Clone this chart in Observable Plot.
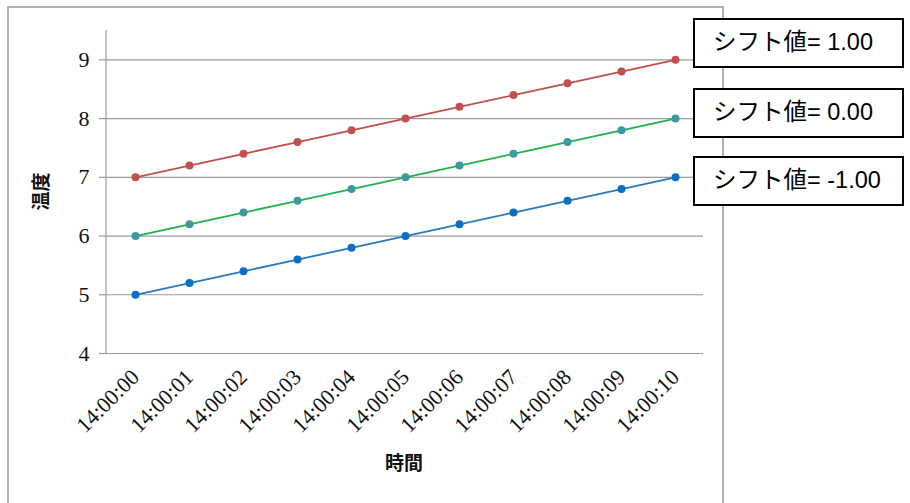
<!DOCTYPE html>
<html>
<head>
<meta charset="utf-8">
<script src="https://cdn.jsdelivr.net/npm/d3@7"></script>
<script src="https://cdn.jsdelivr.net/npm/@observablehq/plot@0.6"></script>
<style>
  html, body { margin: 0; padding: 0; background: #fff; }
  #chart { width: 910px; height: 503px; overflow: hidden; }
</style>
</head>
<body>
<div id="chart"></div>
<script>
const times = ["14:00:00","14:00:01","14:00:02","14:00:03","14:00:04","14:00:05","14:00:06","14:00:07","14:00:08","14:00:09","14:00:10"];
const seriesPlus = [7.0, 7.2, 7.4, 7.6, 7.8, 8.0, 8.2, 8.4, 8.6, 8.8, 9.0];
const seriesZero = [6.0, 6.2, 6.4, 6.6, 6.8, 7.0, 7.2, 7.4, 7.6, 7.8, 8.0];
const seriesMinus = [5.0, 5.2, 5.4, 5.6, 5.8, 6.0, 6.2, 6.4, 6.6, 6.8, 7.0];
const yTicks = [4, 5, 6, 7, 8, 9];
const shiftLabels = ["シフト値= 1.00", "シフト値= 0.00", "シフト値= -1.00"];
const xTitle = "時間";
const yTitle = "温度";

const seriesDefs = [
  {values: seriesPlus, line: "#c0504d", dot: "#c0504d"},
  {values: seriesZero, line: "#22b14c", dot: "#3a9aa0"},
  {values: seriesMinus, line: "#2a7ac0", dot: "#0a6fc2"}
];

const serif = "'Liberation Serif', 'DejaVu Serif', 'Noto Sans CJK JP', serif";

const marks = [
  Plot.gridY(yTicks, {stroke: "#9a9a9a", strokeOpacity: 1, strokeWidth: 1.2}),
  Plot.axisY(yTicks, {tickSize: 7, tickPadding: 10, stroke: "#9a9a9a", strokeWidth: 1.2,
    tickFormat: d3.format("d"), fontSize: 22, fontFamily: serif, fill: "#111", label: null}),
  Plot.axisX({tickSize: 0, tickPadding: 20, tickRotate: -45, fontSize: 22,
    fontFamily: serif, fill: "#111", label: null}),
];
for (const s of seriesDefs) {
  const data = times.map((t, i) => ({t, v: s.values[i]}));
  marks.push(Plot.line(data, {x: "t", y: "v", stroke: s.line, strokeWidth: 1.8}));
  marks.push(Plot.dot(data, {x: "t", y: "v", fill: s.dot, r: 4, stroke: null}));
}

const plot = Plot.plot({
  width: 910,
  height: 503,
  marginLeft: 106,
  marginRight: 207,
  marginTop: 30,
  marginBottom: 150,
  x: {type: "point", domain: times, padding: 0.5},
  y: {domain: [4, 9.5]},
  style: {background: "#fff", overflow: "visible"},
  marks
});

const svg = d3.select(plot);
const y = plot.scale("y");

// outer chart frame
svg.insert("rect", ":first-child")
  .attr("x", 8).attr("y", 7).attr("width", 715).attr("height", 520)
  .attr("fill", "none").attr("stroke", "#b0b0b0").attr("stroke-width", 2);

// axis line
svg.append("line")
  .attr("x1", 106).attr("x2", 106)
  .attr("y1", y.apply(9.5)).attr("y2", y.apply(4))
  .attr("stroke", "#9a9a9a").attr("stroke-width", 1.2);

// axis titles
svg.append("text")
  .attr("transform", `translate(43, ${(y.apply(9.5) + y.apply(4)) / 2}) rotate(-90)`)
  .attr("text-anchor", "middle").attr("dominant-baseline", "middle")
  .attr("font-family", "'Noto Sans CJK JP', sans-serif").attr("font-size", 19)
  .attr("font-weight", 600).attr("fill", "#111")
  .text(yTitle);
svg.append("text")
  .attr("x", 404).attr("y", 465)
  .attr("text-anchor", "middle").attr("dominant-baseline", "middle")
  .attr("font-family", "'Noto Sans CJK JP', sans-serif").attr("font-size", 19)
  .attr("font-weight", 600).attr("fill", "#111")
  .text(xTitle);

// shift value label boxes
const boxTops = [19, 89, 157];
shiftLabels.forEach((lab, i) => {
  const g = svg.append("g");
  g.append("rect").attr("x", 694).attr("y", boxTops[i]).attr("width", 209).attr("height", 48)
    .attr("fill", "#fff").attr("stroke", "#000").attr("stroke-width", 2);
  g.append("text").attr("x", 713).attr("y", boxTops[i] + 25)
    .attr("text-anchor", "start")
    .attr("dominant-baseline", "middle")
    .attr("font-family", "'Liberation Sans', Arial, 'Noto Sans CJK JP', sans-serif")
    .attr("font-size", 23.5).attr("fill", "#000")
    .text(lab);
});

document.getElementById("chart").appendChild(plot);
</script>
</body>
</html>
